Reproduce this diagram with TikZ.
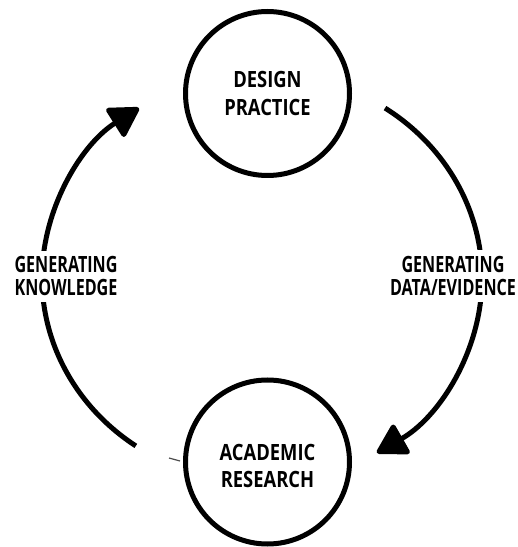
\documentclass[tikz,border=0pt]{standalone}
\usepackage{fontspec}
\setmainfont{Open Sans}[FakeStretch=0.82]
\newfontfamily\lblfont{Open Sans}[FakeStretch=0.72]
\usetikzlibrary{arrows.meta,calc}
\begin{document}
\begin{tikzpicture}[x=1pt,y=1pt,
  hub/.style={circle, draw, line width=5pt, minimum size=164pt, inner sep=0pt},
  hubtext/.style={font=\bfseries\fontsize{22.4}{28}\selectfont, align=center, inner sep=0pt},
  cyc/.style={line width=5pt},
  lbl/.style={fill=white, font=\lblfont\bfseries\fontsize{22.4}{23}\selectfont, align=center,
    inner xsep=1pt, inner ysep=6pt},
  tipr/.style={-{Triangle[length=32pt,width=36pt,round]}}]
\path[use as bounding box] (0,0) rectangle (518,547);
% hubs
\node[hub] (dp) at (267.5,453.5) {};
\node[hubtext] (dptext) at (dp.center) {DESIGN\\PRACTICE};
\node[hub] (ar) at (267.5,85) {};
\node[hubtext] (artext) at ([yshift=-4pt]ar.center) {ACADEMIC\\RESEARCH};
% cycle arcs
\coordinate (E) at (262,269);
\coordinate (lstart) at ($(E)+(235:220pt and 205pt)$);
\coordinate (rstart) at ($(E)+(56:220pt and 205pt)$);
\draw[cyc,tipr] (lstart) arc[start angle=235, end angle=124, x radius=220pt, y radius=205pt];
\draw[cyc,tipr] (rstart) arc[start angle=56, end angle=-58.5, x radius=220pt, y radius=205pt];
% labels
\node[lbl] (gk) at (66,270.5) {GENERATING\\KNOWLEDGE};
\node[lbl] (gd) at (453,271) {GENERATING\\DATA/EVIDENCE};
% small stray dash
\coordinate (s1) at (169,89);
\coordinate (s2) at (180,86);
\draw[black!70, line width=1.2pt] (s1) -- (s2);
\end{tikzpicture}
\end{document}
